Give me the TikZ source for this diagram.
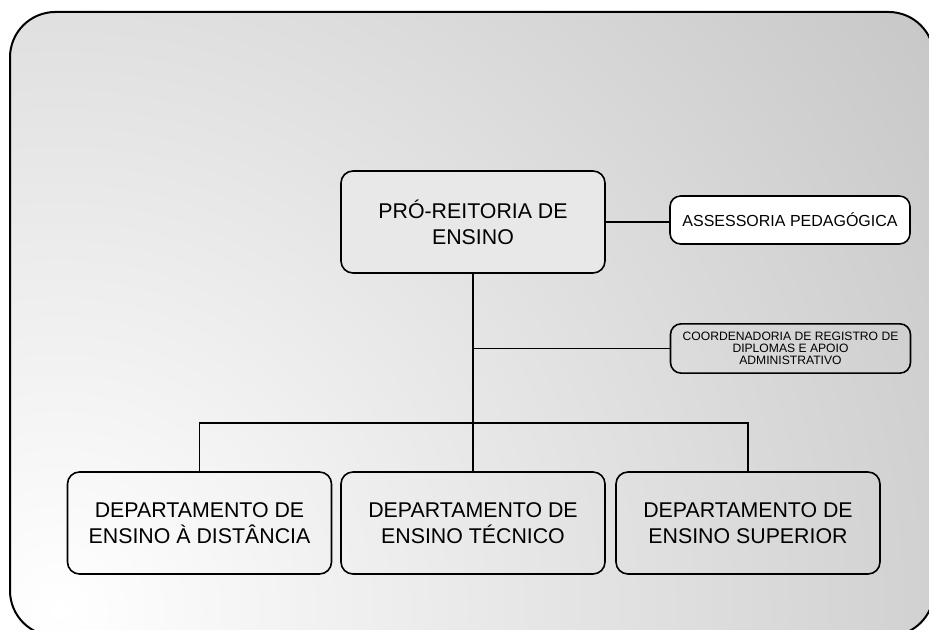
\documentclass[tikz,border=0pt]{standalone}
\usepackage{fontspec}
\setmainfont{Liberation Sans}
\definecolor{fundo}{HTML}{B4B4B4}
\definecolor{caixa}{HTML}{E8E8E8}
\begin{document}
\begin{tikzpicture}[x=0.75pt, y=-0.75pt,
    setor/.style={draw, line width=1.2pt, rounded corners=9pt, align=center,
        minimum width=198pt, minimum height=76.5pt, inner sep=2pt,
        font=\fontsize{16}{19.5}\selectfont},
    apoio/.style={draw, line width=1.2pt, rounded corners=8pt, align=center,
        minimum width=180pt, minimum height=36pt, inner sep=1pt},
    liga/.style={line width=1pt}]
\useasboundingbox (0,0) rectangle (929,630);
\clip (0,0) rectangle (929,630);
% fundo com degrade
\fill[fundo, rounded corners=34pt] (10,12) rectangle (934,636);
\begin{scope}
\clip[rounded corners=34pt] (10,12) rectangle (934,636);
\shade[inner color=white, outer color=fundo] (60,610) circle (1420);
\end{scope}
\draw[line width=1.5pt, rounded corners=34pt] (10,12) rectangle (934,636);
% caixas
\node[setor, fill=caixa] (pre) at (473,222) {PRÓ-REITORIA DE\\ENSINO};
\node[apoio, fill=white, font=\fontsize{12}{14}\selectfont] (ass) at (790,220) {ASSESSORIA PEDAGÓGICA};
\node[apoio, minimum height=37pt, font=\fontsize{9.1}{9}\selectfont] (coord) at (790.5,348.5)
    {COORDENADORIA DE REGISTRO DE\\DIPLOMAS E APOIO\\ADMINISTRATIVO};
\node[setor] (dead) at (199.5,523) {DEPARTAMENTO DE\\ENSINO À DISTÂNCIA};
\node[setor] (detec) at (473,523) {DEPARTAMENTO DE\\ENSINO TÉCNICO};
\node[setor] (desup) at (748,523) {DEPARTAMENTO DE\\ENSINO SUPERIOR};
\coordinate (j) at (473,423);
% ligacoes
\draw[liga] (pre.east) -- (pre.east -| ass.west);
\draw[liga] (pre.south |- coord.west) -- (coord.west);
\draw[liga] (pre.south) -- (detec.north);
\draw[liga] (dead.north) -- (dead.north |- j) -- (desup.north |- j) -- (desup.north);
\end{tikzpicture}
\end{document}
